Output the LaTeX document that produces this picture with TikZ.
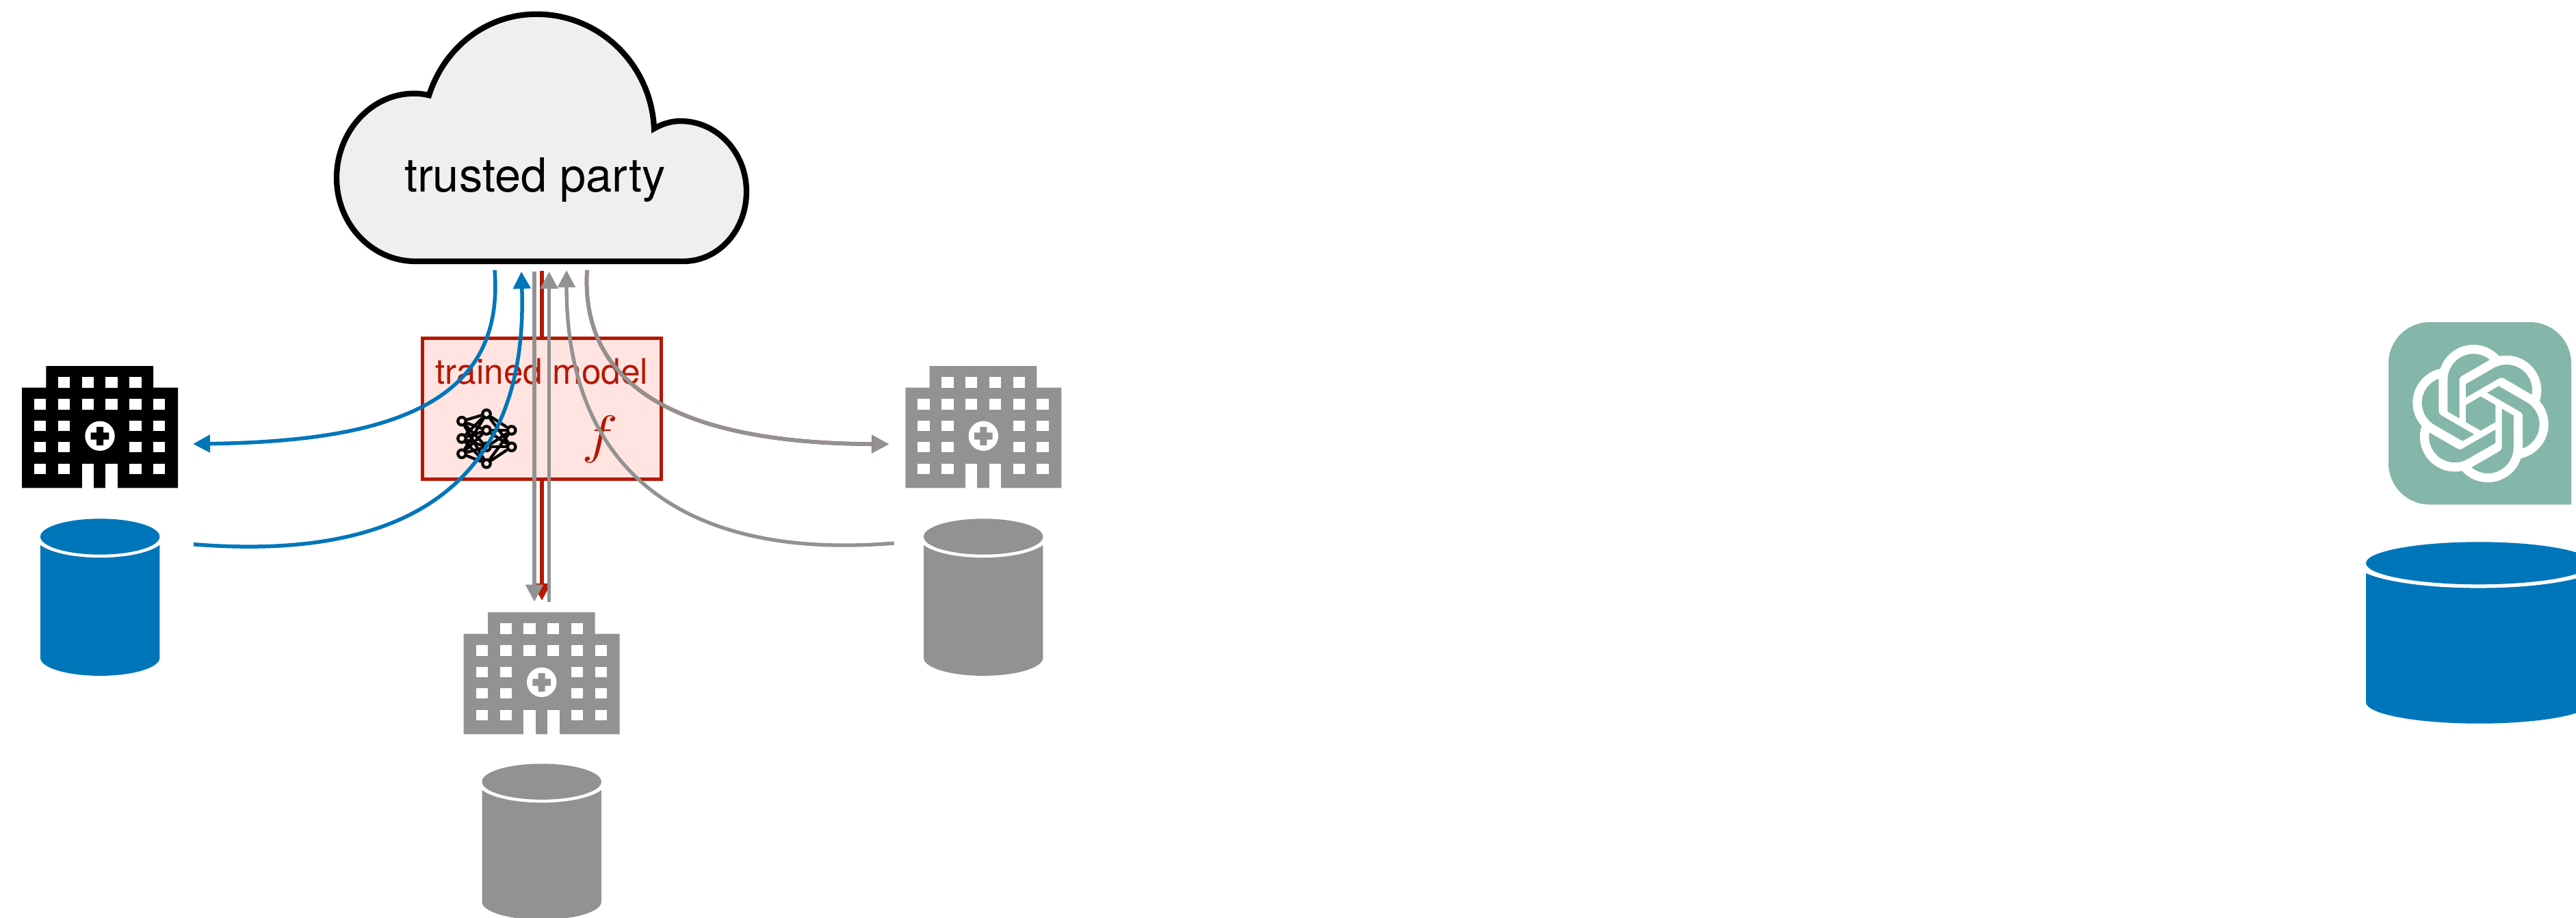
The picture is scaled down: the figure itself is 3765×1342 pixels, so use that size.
\documentclass[tikz,border=0pt]{standalone}
\usepackage{fontspec}
\setmainfont{TeX Gyre Heros}
\usetikzlibrary{arrows.meta,svg.path}
\definecolor{cblue}{HTML}{0076BA}
\definecolor{cgray}{HTML}{929292}
\definecolor{cred}{HTML}{B51700}
\definecolor{cpink}{HTML}{FFE4E1}
\definecolor{cteal}{HTML}{84B6A9}
\definecolor{ccloud}{HTML}{EFEFEF}
\tikzset{
  px/.style={line width=#1*0.01cm},
  head/.style={-{Triangle[length=0.25cm,width=0.25cm]}},
  blueflow/.style={draw=cblue,px=5.5,head},
  grayflow/.style={draw=cgray,px=5.3,head},
  redflow/.style={draw=cred,px=5.3,head},
  redfringe/.style={draw=cred!55!cgray,px=5.7,-{Triangle[length=0.253cm,width=0.254cm]}},
  netnode/.style={circle,draw=black,fill=cpink,px=4.2,minimum size=0.115cm,inner sep=0pt},
  netedge/.style={draw=black,px=4.2},
  pics/hospital/.style={code={
    \fill[#1] (0,31.7)--(35.3,31.7)--(35.3,0)--(192,0)--(192,31.7)--(228,31.7)--(228,178.3)--(0,178.3)--cycle;
    \foreach \cx in {53,87.7,122.3,157.3}
      \fill[white] (\cx,16.3) rectangle ++(17.3,15.4);
    \foreach \cx in {18,53,87.7,122.3,157.3,192}
      \fill[white] (\cx,48.3) rectangle ++(17.3,15.4);
    \foreach \cx in {18,53,157.3,192}
      \foreach \cy in {79.7,111,142.7}
        \fill[white] (\cx,\cy) rectangle ++(17.3,15.4);
    \fill[white] (87.7,142.7) rectangle (105,178.6);
    \fill[white] (122.3,142.7) rectangle (140,178.6);
    \fill[white] (114,102.3) circle [x radius=21.7,y radius=21.7];
    \fill[#1] (109,89)--(119,89)--(119,97.3)--(127.3,97.3)--(127.3,107.7)--(119,107.7)--(119,116)--(109,116)--(109,107.7)--(100.7,107.7)--(100.7,97.3)--(109,97.3)--cycle;
  }},
  pics/database/.style n args={4}{code={
    % #1 colour, #2 half width, #3 half height of the lid, #4 height of the side
    \fill[#1] (-#2,0) -- (-#2,#4) arc [start angle=180,end angle=0,x radius=#2,y radius=#3] -- (#2,0) -- cycle;
    \fill[white] (0,0) circle [x radius=1.09*#2,y radius=1.17*#3];
    \fill[#1] (0,0) circle [x radius=#2,y radius=#3];
  }},
}
\begin{document}
\begin{tikzpicture}[x=0.01cm,y=-0.01cm]
\path[use as bounding box,clip] (0,0) rectangle (3765,1342);
\fill[white] (0,0) rectangle (3765,1342);

% cloud
\draw[fill=ccloud,draw=black,px=8.3,line join=miter]
  (607,382) .. controls (544,382) and (492,328) .. (492,260)
  .. controls (492,192) and (543,136.7) .. (605,136.7)
  .. controls (613,136.7) and (620,137.5) .. (627,139.3)
  .. controls (650,68) and (712,20.7) .. (784,20.7)
  .. controls (877,20.7) and (952,95) .. (956,188)
  .. controls (968,181) and (981,177) .. (994.5,177)
  .. controls (1048,177) and (1091,223) .. (1091,280)
  .. controls (1091,337) and (1050,382) .. (998.7,382) -- cycle;
\node[anchor=base,inner sep=0pt,font=\fontsize{19.5}{22}\selectfont,text=black] (trust) at (782,280) {trusted party};

% connector ends
\coordinate (cloudA) at (723,395);
\coordinate (cloudB) at (762,397);
\coordinate (cloudC) at (781,397);
\coordinate (cloudD) at (792,396);
\coordinate (cloudE) at (802.6,397);
\coordinate (cloudF) at (828,395);
\coordinate (cloudG) at (858,395);
\coordinate (leftH) at (282,649);
\coordinate (leftD) at (283,795.7);
\coordinate (midA) at (781,879.6);
\coordinate (midB) at (792,878);
\coordinate (midC) at (802.6,880);
\coordinate (rightH) at (1299.3,649.3);
\coordinate (rightD) at (1306.7,794);

% red arrow runs behind the model box
\draw[redflow] (cloudD) -- (midB);

% model box
\node[rectangle,draw=cred,fill=cpink,px=5.3,minimum width=3.49cm,minimum height=2.055cm,inner sep=0pt] (model) at (791.75,597.5) {};
\node[anchor=base,inner sep=0pt,font=\fontsize{14.6}{16}\selectfont,text=cred] (modeltext) at (792,561.8) {trained model};
\node[anchor=base,inner sep=0pt,text=cred,xscale=1.03,yscale=0.88] (fn) at (877,661) {\Huge$f$};

% network
\node[netnode] (a1) at (675,615.7) {};
\node[netnode] (a2) at (675,641) {};
\node[netnode] (a3) at (675,663.3) {};
\node[netnode] (b1) at (711,605) {};
\node[netnode] (b2) at (711,629) {};
\node[netnode] (b3) at (711,653.3) {};
\node[netnode] (b4) at (711,677.7) {};
\node[netnode] (c1) at (747.7,629) {};
\node[netnode] (c2) at (747.7,653.3) {};
\foreach \p in {a1,a2,a3}
  \foreach \q in {b1,b2,b3,b4}
    \draw[netedge] (\p) -- (\q);
\foreach \p in {b1,b2,b3,b4}
  \foreach \q in {c1,c2}
    \draw[netedge] (\p) -- (\q);

% hospitals
\pic at (32,535) {hospital=black};
\pic at (677.7,895) {hospital=cgray};
\pic at (1323.3,535) {hospital=cgray};

% databases
\pic at (146.2,784.5) {database={cblue}{87.2}{26.2}{177.2}};
\pic at (791.7,1142.7) {database={cgray}{87.2}{26.2}{175.6}};
\pic at (1437.2,784.5) {database={cgray}{87.2}{26.2}{177.2}};
\pic at (3623,823.3) {database={cblue}{165}{31}{203.4}};

% app icon
\fill[cteal] (3491,531) arc [start angle=180,end angle=270,radius=60] -- (3698,471) arc [start angle=270,end angle=360,radius=60] -- (3758,737.5) -- (3551,737.5) arc [start angle=90,end angle=180,radius=60] -- cycle;
\begin{scope}[shift={(3525,504)},xscale=2.383,yscale=-2.383]
\fill[white,even odd rule] svg "M22.2819 9.8211a5.9847 5.9847 0 0 0-.5157-4.9108 6.0462 6.0462 0 0 0-6.5098-2.9A6.0651 6.0651 0 0 0 4.9807 4.1818a5.9847 5.9847 0 0 0-3.9977 2.9 6.0462 6.0462 0 0 0 .7427 7.0966 5.98 5.98 0 0 0 .511 4.9107 6.051 6.051 0 0 0 6.5146 2.9001A5.9847 5.9847 0 0 0 13.2599 24a6.0557 6.0557 0 0 0 5.7718-4.2058 5.9894 5.9894 0 0 0 3.9977-2.9001 6.0557 6.0557 0 0 0-.7475-7.0729zm-9.022 12.6081a4.4755 4.4755 0 0 1-2.8764-1.0408l.1419-.0804 4.7783-2.7582a.7948.7948 0 0 0 .3927-.6813v-6.7369l2.02 1.1686a.071.071 0 0 1 .038.052v5.5826a4.504 4.504 0 0 1-4.4945 4.4944zm-9.6607-4.1254a4.4708 4.4708 0 0 1-.5346-3.0137l.142.0852 4.783 2.7582a.7712.7712 0 0 0 .7806 0l5.8428-3.3685v2.3324a.0804.0804 0 0 1-.0332.0615L9.74 19.9502a4.4992 4.4992 0 0 1-6.1408-1.6464zM2.3408 7.8956a4.485 4.485 0 0 1 2.3655-1.9728V11.6a.7664.7664 0 0 0 .3879.6765l5.8144 3.3543-2.0201 1.1685a.0757.0757 0 0 1-.071 0l-4.8303-2.7865A4.504 4.504 0 0 1 2.3408 7.872zm16.5963 3.8558L13.1038 8.364 15.1192 7.2a.0757.0757 0 0 1 .071 0l4.8303 2.7913a4.4944 4.4944 0 0 1-.6765 8.1042v-5.6772a.79.79 0 0 0-.407-.667zm2.0107-3.0231l-.142-.0852-4.7735-2.7818a.7759.7759 0 0 0-.7854 0L9.409 9.2297V6.8974a.0662.0662 0 0 1 .0284-.0615l4.8303-2.7866a4.4992 4.4992 0 0 1 6.6802 4.66zM8.3065 12.863l-2.02-1.1638a.0804.0804 0 0 1-.038-.0567V6.0742a4.4992 4.4992 0 0 1 7.3757-3.4537l-.142.0805L8.704 5.459a.7948.7948 0 0 0-.3927.6813zM9.4041 10.4976l2.602-1.4998 2.6069 1.4998v2.9994l-2.5974 1.4997-2.6067-1.4997Z";
\end{scope}

% connectors
\draw[redfringe] (cloudG) .. controls (847,580) and (1020,648) .. (rightH);
\draw[blueflow] (cloudA) .. controls (738,590) and (570,645) .. (leftH);
\draw[blueflow] (leftD) .. controls (610,822) and (772,695) .. (cloudB);
\draw[grayflow] (cloudC) -- (midA);
\draw[grayflow] (midC) -- (cloudE);
\draw[grayflow] (rightD) .. controls (990,820) and (828,680) .. (cloudF);
\draw[grayflow] (cloudG) .. controls (847,580) and (1020,648) .. (rightH);
\end{tikzpicture}
\end{document}
